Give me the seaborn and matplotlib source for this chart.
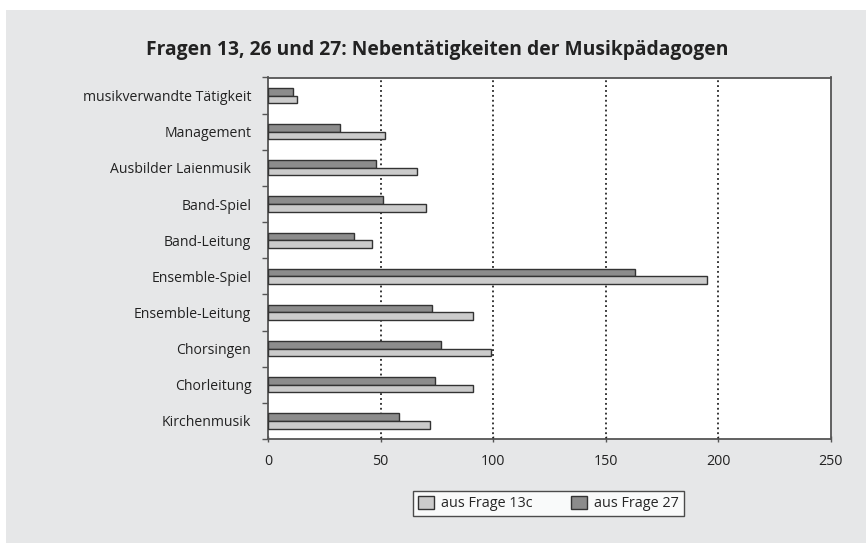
import matplotlib
matplotlib.use("Agg")
import matplotlib.pyplot as plt
import matplotlib.patches as mpatches
import seaborn as sns
import pandas as pd

categories = ["musikverwandte Tätigkeit", "Management", "Ausbilder Laienmusik",
              "Band-Spiel", "Band-Leitung", "Ensemble-Spiel", "Ensemble-Leitung",
              "Chorsingen", "Chorleitung", "Kirchenmusik"]
frage_13c = [13, 52, 66, 70, 46, 195, 91, 99, 91, 72]
frage_27 = [11, 32, 48, 51, 38, 163, 73, 77, 74, 58]
series_names = ["aus Frage 13c", "aus Frage 27"]
xticks = [0, 50, 100, 150, 200, 250]

sns.set_theme(style="white")
plt.rcParams['font.family'] = ['Open Sans', 'DejaVu Sans']

df = pd.DataFrame({
    "Kategorie": categories * 2,
    "Wert": frage_27 + frage_13c,
    "Serie": [series_names[1]] * len(categories) + [series_names[0]] * len(categories),
})

light = "#cbcbcb"
dark = "#8c8c8c"
edge = "#333333"

fig = plt.figure(figsize=(8.66, 5.43), dpi=100)
fig.patch.set_facecolor("white")
bg = mpatches.Rectangle((6 / 866, 0), 1 - 6 / 866, (543 - 10) / 543,
                        transform=fig.transFigure, facecolor="#e6e7e8",
                        edgecolor="none", zorder=-10)
fig.patches.append(bg)

ax = fig.add_axes([268 / 866, (543 - 439) / 543, (830.5 - 268) / 866, (439 - 77.5) / 543])
ax.set_zorder(1)
ax.set_facecolor("white")

sns.barplot(data=df, y="Kategorie", x="Wert", hue="Serie", orient="h",
            order=categories, hue_order=[series_names[1], series_names[0]],
            palette={series_names[1]: dark, series_names[0]: light},
            width=0.42, gap=0, edgecolor=edge, linewidth=1.0,
            legend=False, ax=ax, zorder=3)

ax.set_xlim(0, 250)
ax.set_ylim(len(categories) - 0.5, -0.5)
ax.set_xticks(xticks)
ax.set_xticklabels([str(t) for t in xticks])
for v in xticks[1:-1]:
    ax.axvline(v, color="black", linestyle=(0, (1.2, 2.0)), linewidth=1.1, zorder=1)

ax.set_xlabel("")
ax.set_ylabel("")
ax.set_yticks(range(len(categories)))
ax.set_yticklabels(categories)
ax.set_yticks([i + 0.5 for i in range(-1, len(categories))], minor=True)
ax.tick_params(axis="y", which="major", length=0, pad=12, labelsize=10.1, colors="#222222")
ax.tick_params(axis="y", which="minor", length=4, width=1, color="#555555", direction="out", left=True)
ax.tick_params(axis="x", which="major", length=5, width=1, color="#555555", direction="inout",
               bottom=True, pad=8, labelsize=10.3, labelcolor="#222222")

for s in ax.spines.values():
    s.set_color("#555555")
    s.set_linewidth(1.3)
    s.set_visible(True)

fig.text(437 / 866, (543 - 50) / 543, "Fragen 13, 26 und 27: Nebentätigkeiten der Musikpädagogen",
         ha="center", va="center", fontsize=13.9, fontweight="bold", color="#222222")

handles = [mpatches.Patch(facecolor=light, edgecolor=edge, linewidth=1.0, label=series_names[0]),
           mpatches.Patch(facecolor=dark, edgecolor=edge, linewidth=1.0, label=series_names[1])]
leg = fig.legend(handles=handles, loc="center", bbox_to_anchor=(548.5 / 866, (543 - 503.5) / 543),
                 ncol=2, frameon=True, fancybox=False, fontsize=10.4, handlelength=1.1,
                 handleheight=1.1, columnspacing=2.6, handletextpad=0.5, borderpad=0.35)
leg.get_frame().set_edgecolor("#222222")
leg.get_frame().set_linewidth(1.0)
leg.get_frame().set_facecolor("white")

fig.savefig("out.png", dpi=100, facecolor=fig.get_facecolor())
